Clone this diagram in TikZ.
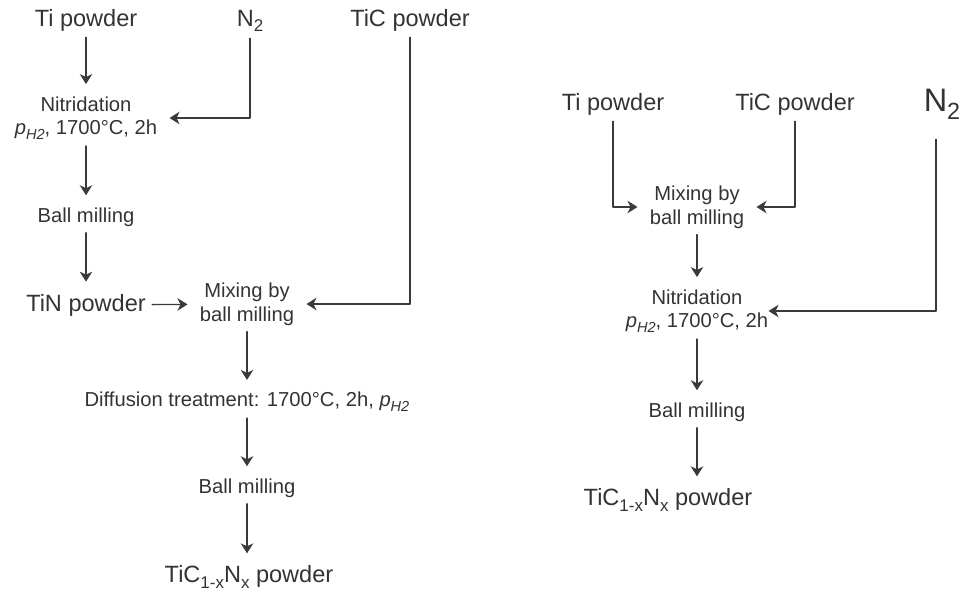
\documentclass[tikz,border=0pt]{standalone}
\usepackage{fontspec}
\setmainfont{Liberation Sans}
\usepackage{xcolor}
\usetikzlibrary{arrows.meta,calc,positioning}

\definecolor{inkgray}{HTML}{333333}
\definecolor{linegray}{HTML}{3A3A3A}
\newcommand{\lowsub}[1]{\raisebox{-0.45ex}{\scalebox{0.72}{#1}}}
\newcommand{\pHtwo}{{\itshape p\lowsub{H2}}}

\begin{document}
\begin{tikzpicture}[
  x=0.02cm, y=-0.02cm,
  line cap=round,
  line join=round,
  feed/.style={text=inkgray, inner sep=0pt, font=\fontsize{13.4}{16}\selectfont},
  bigfeed/.style={text=inkgray, inner sep=0pt, font=\fontsize{18.5}{22}\selectfont},
  stepnode/.style={text=inkgray, inner sep=0pt, align=center, font=\fontsize{11.5}{13.5}\selectfont},
  flow/.style={draw=linegray, line width=0.75pt,
    -{Stealth[length=2mm,width=2.5mm,inset=0.6mm]},
    shorten <=0.12cm, shorten >=0.24cm}
]
\useasboundingbox (0,0) rectangle (961,593);

% Left route: nitride the Ti first, then mix with TiC.
\node[feed] (tiL)  at (86,20)  {Ti powder};
\node[feed] (n2L)  at (250,21) {N\lowsub{2}};
\node[feed] (ticL) at (410,20) {TiC powder};
\node[stepnode] (nitrL) at (86,118) {Nitridation\\ \pHtwo, 1700°C, 2h};
\node[stepnode] (millLa) at (86,217) {Ball milling};
\node[feed] (tinL) at (86,305) {TiN powder};
\node[stepnode] (mixL) at (247,304) {Mixing by\\ball milling};
\node[stepnode] (diffL) at (247,402) {Diffusion treatment: 1700°C, 2h, \pHtwo};
\node[stepnode] (millLb) at (247,488) {Ball milling};
\node[feed] (prodL) at (249,577) {TiC\lowsub{1-x}N\lowsub{x} powder};

\draw[flow] (tiL) -- (nitrL);
\draw[flow] (n2L) |- (nitrL);
\draw[flow] (nitrL) -- (millLa);
\draw[flow] (millLa) -- (tinL);
\draw[flow] (tinL) -- (mixL);
\draw[flow] (ticL) |- (mixL);
\draw[flow] (mixL) -- (diffL);
\draw[flow] (diffL) -- (millLb);
\draw[flow] (millLb) -- (millLb |- prodL.north);

% Right route: mix Ti with TiC, then nitride the blend.
\node[feed] (tiR)  at (613,104) {Ti powder};
\node[feed] (ticR) at (795,104) {TiC powder};
\node[bigfeed] (n2R) at (942,104) {N\lowsub{2}};
\node[stepnode] (mixR) at (697,207) {Mixing by\\ball milling};
\node[stepnode] (nitrR) at (697,311) {Nitridation\\ \pHtwo, 1700°C, 2h};
\node[stepnode] (millR) at (697,412) {Ball milling};
\node[feed] (prodR) at (668,500) {TiC\lowsub{1-x}N\lowsub{x} powder};

\draw[flow] (tiR) |- (mixR);
\draw[flow] (ticR) |- (mixR);
\draw[flow] (mixR) -- (nitrR);
\draw[flow, shorten <=0.4cm, shorten >=0pt] ([xshift=-0.12cm]n2R.south) |- (nitrR);
\draw[flow] (nitrR) -- (millR);
\draw[flow] (millR) -- (millR |- prodR.north);
\end{tikzpicture}
\end{document}
